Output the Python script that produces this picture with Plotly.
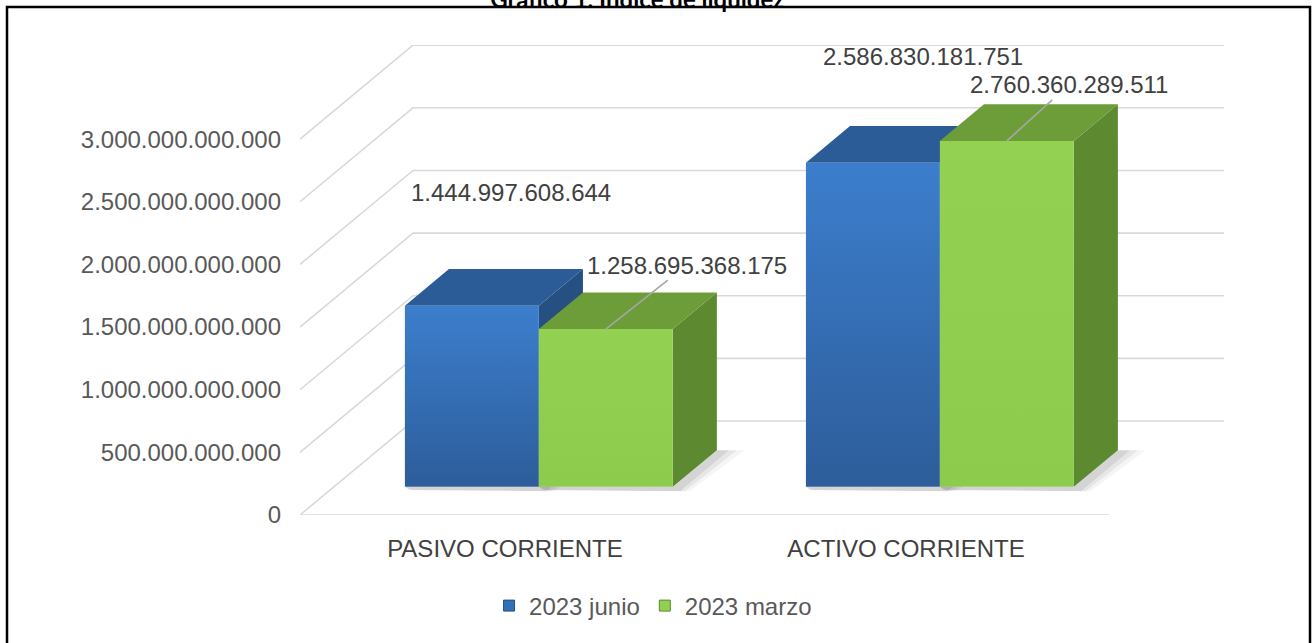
import plotly.graph_objects as go

# ---------------- data ----------------
categories = ["PASIVO CORRIENTE", "ACTIVO CORRIENTE"]
series_names = ["2023 junio", "2023 marzo"]
junio = [1444997608644, 2586830181751]
marzo = [1258695368175, 2760360289511]
y_ticks = [0, 500e9, 1000e9, 1500e9, 2000e9, 2500e9, 3000e9]

# ---------------- pseudo-3D geometry ----------------
DX = 0.2818      # full depth shift along x (category units)
DYV = 7.5e11     # full depth shift along y (value units)
D0 = 0.30        # depth of bar front faces
DD = 0.39        # bar depth
BW = 0.334       # bar width (category units)
XF0, XF1 = -0.511, 1.506   # floor front extent
XB0, XB1 = XF0 + DX, 1.793  # back wall extent
Y_TOP = 3.751e12

FRONT = ["#3470BA", "#92D050"]
GRAD = [[[0, "#2D5D9A"], [1, "#3C7ECD"]], [[0, "#8CCB4B"], [1, "#93D152"]]]
TOPC = ["#2C5C97", "#6D9D39"]
SIDEC = ["#264F82", "#5D8931"]
GRID = "#D9D9D9"
TXT = "#404040"
FONT = "Liberation Sans, Arial, sans-serif"
FS = 24


def fmt(v):
    return f"{int(round(v)):,}".replace(",", ".")


fig = go.Figure()

# gridlines: back wall + left side wall diagonals + floor front edge
for v in y_ticks:
    fig.add_trace(go.Scatter(x=[XF0, XB0, XB1], y=[v, v + DYV, v + DYV], mode="lines",
                             line=dict(color=GRID, width=1.6), hoverinfo="skip", showlegend=False))
fig.add_trace(go.Scatter(x=[XF0, XF1], y=[0, 0], mode="lines",
                         line=dict(color=GRID, width=1.6), hoverinfo="skip", showlegend=False))

series = [junio, marzo]

# soft shadows on the floor
for s, vals in enumerate(series):
    for i, val in enumerate(vals):
        xc = i + D0 * DX
        xl = xc - BW if s == 0 else xc
        xr = xl + BW
        yb = D0 * DYV
        ddx, ddy = DD * DX, DD * DYV
        for w, a in [(0.07, 0.04), (0.05, 0.06), (0.03, 0.08)]:
            fig.add_trace(go.Scatter(
                x=[xl, xr, xr + ddx, xr + ddx + w, xr + w * 0.6, xl + w * 0.3],
                y=[yb, yb, yb + ddy, yb + ddy, yb - 0.035e12, yb - 0.025e12],
                fill="toself", mode="lines", line=dict(width=0),
                fillcolor=f"rgba(0,0,0,{a})", hoverinfo="skip", showlegend=False))

# bars as front / top / side faces
for s, vals in enumerate(series):
    for i, val in enumerate(vals):
        xc = i + D0 * DX
        xl = xc - BW if s == 0 else xc
        xr = xl + BW
        yb = D0 * DYV
        yt = val + D0 * DYV
        ddx, ddy = DD * DX, DD * DYV
        # side
        fig.add_trace(go.Scatter(x=[xr, xr + ddx, xr + ddx, xr, xr],
                                 y=[yb, yb + ddy, yt + ddy, yt, yb],
                                 fill="toself", mode="lines", line=dict(width=0),
                                 fillcolor=SIDEC[s], hoverinfo="skip", showlegend=False))
        # top
        fig.add_trace(go.Scatter(x=[xl, xr, xr + ddx, xl + ddx, xl],
                                 y=[yt, yt, yt + ddy, yt + ddy, yt],
                                 fill="toself", mode="lines", line=dict(width=0),
                                 fillcolor=TOPC[s], hoverinfo="skip", showlegend=False))
        # front
        fig.add_trace(go.Scatter(x=[xl, xr, xr, xl, xl],
                                 y=[yb, yb, yt, yt, yb],
                                 fill="toself", mode="lines", line=dict(width=0),
                                 fillcolor=FRONT[s],
                                 fillgradient=dict(type="vertical", colorscale=GRAD[s]),
                                 name=series_names[s], text=fmt(val),
                                 hoveron="fills", hoverinfo="name+text", showlegend=False))

# legend entries
for s in range(2):
    fig.add_trace(go.Scatter(x=[None], y=[None], mode="markers", name=series_names[s],
                             marker=dict(symbol="square", size=11, color=FRONT[s],
                                         line=dict(color=SIDEC[s], width=1))))

# data labels
label_shift = {(0, 0): (39, 113), (0, 1): (50, 106)}
arrow_off = {(1, 0): (81, -64), (1, 1): (62, -56)}
for s, vals in enumerate(series):
    for i, val in enumerate(vals):
        xc = i + D0 * DX
        xl = xc - BW if s == 0 else xc
        xm = xl + BW / 2
        yt = val + D0 * DYV
        if s == 0:
            dx, dy = label_shift[(s, i)]
            fig.add_annotation(x=xm, y=yt, text=fmt(val), showarrow=False,
                               xshift=dx, yshift=dy, font=dict(size=FS, color=TXT, family=FONT))
        else:
            ax, ay = arrow_off[(s, i)]
            fig.add_annotation(x=xm, y=yt, text=fmt(val), showarrow=True, arrowhead=0,
                               arrowwidth=1.6, arrowcolor="#A6A6A6", ax=ax, ay=ay,
                               standoff=0, startstandoff=0,
                               font=dict(size=FS, color=TXT, family=FONT))

# frame
fig.add_shape(type="rect", xref="paper", yref="paper",
              x0=(7 - 300) / 924, x1=(1310 - 300) / 924,
              y0=(515 - 660) / 470, y1=(515 - 7) / 470,
              line=dict(color="black", width=2.5), layer="above")

fig.update_layout(
    width=1314, height=643,
    margin=dict(l=300, r=90, t=45, b=128),
    paper_bgcolor="white", plot_bgcolor="white",
    separators=",.",
    font=dict(family=FONT, size=FS, color=TXT),
    title=dict(text="Gráfico 1. Índice de liquidez", x=0.485, xanchor="center",
               yref="container", y=1 - 8 / 643, yanchor="bottom",
               font=dict(family="Lato, Carlito, sans-serif", size=24, color="black", weight="bold")),
    xaxis=dict(range=[XF0, XB1], tickmode="array", tickvals=[0, 1], ticktext=categories,
               showgrid=False, zeroline=False, showline=False, ticks="",
               ticklabelstandoff=17, tickfont=dict(size=FS, color=TXT, family=FONT),
               fixedrange=True),
    yaxis=dict(range=[0, Y_TOP], tickmode="array", tickvals=y_ticks, tickformat=",.0f",
               showgrid=False, zeroline=False, showline=False, ticks="",
               ticklabelstandoff=18, tickfont=dict(size=FS, color="#595959", family=FONT),
               fixedrange=True),
    legend=dict(orientation="h", xref="container", yref="container",
                x=0.497, xanchor="center", y=1 - 606 / 643, yanchor="middle",
                font=dict(size=FS, color="#595959", family=FONT), itemwidth=30,
                bgcolor="rgba(0,0,0,0)"),
    showlegend=True,
)

fig.write_html("out.html", config={"displayModeBar": False},
               post_script="document.body.style.margin='0';document.body.style.overflow='hidden';")
